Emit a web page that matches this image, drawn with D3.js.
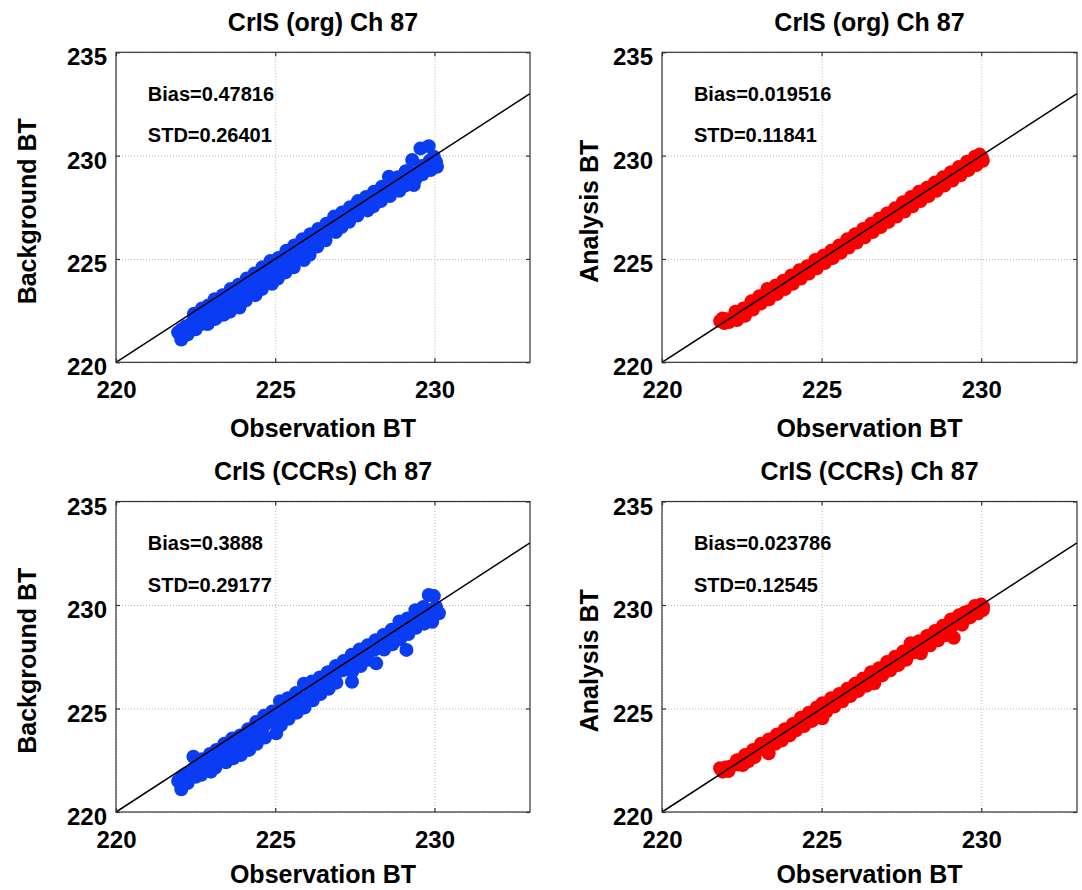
<!DOCTYPE html>
<html>
<head>
<meta charset="utf-8">
<script src="https://cdn.jsdelivr.net/npm/d3@7"></script>
<style>
  html, body { margin: 0; padding: 0; background: #fff; }
  svg { display: block; }
  text { font-family: "Liberation Sans", Arial, Helvetica, sans-serif; font-weight: bold; fill: #000; }
</style>
</head>
<body>
<svg id="chart" width="1082" height="890"></svg>
<script>
// ---- data ----
const xTicks = [220, 225, 230];
const yTicks = [220, 225, 230, 235];
const xDomain = [220, 233];
const yDomain = [220, 235];

const titles = ["CrIS (org) Ch 87", "CrIS (org) Ch 87", "CrIS (CCRs) Ch 87", "CrIS (CCRs) Ch 87"];
const xLabels = ["Observation BT", "Observation BT", "Observation BT", "Observation BT"];
const yLabels = ["Background BT", "Analysis BT", "Background BT", "Analysis BT"];
const biasValues = ["0.47816", "0.019516", "0.3888", "0.023786"];
const stdValues = ["0.26401", "0.11841", "0.29177", "0.12545"];
const seriesColors = ["#0a3cf4", "#fa0000", "#0a3cf4", "#fa0000"];

// [observation BT, model BT]
const orgBackground = [
  [222.05,221.10],[222.07,221.60],[221.95,221.45],[222.20,221.75],[222.25,221.35],
  [222.45,222.35],[222.40,221.95],[222.50,221.60],[222.42,221.70],
  [222.70,222.60],[222.72,222.15],[222.68,221.85],
  [222.90,222.75],[222.95,222.30],[222.88,221.85],
  [223.10,223.05],[223.15,222.60],[223.12,222.10],
  [223.35,223.25],[223.30,222.80],[223.38,222.30],
  [223.60,223.55],[223.62,223.00],[223.58,222.45],
  [223.85,223.75],[223.90,223.20],[223.88,222.65],
  [224.10,224.05],[224.12,223.55],[224.08,223.00],
  [224.35,224.30],[224.40,223.75],[224.38,223.25],
  [224.60,224.60],[224.62,224.05],[224.58,223.55],
  [224.85,224.90],[224.88,224.30],[224.90,223.80],
  [225.10,225.05],[225.12,224.55],[225.08,224.05],
  [225.35,225.40],[225.38,224.80],[225.32,224.35],
  [225.60,225.65],[225.62,225.10],[225.58,224.60],
  [225.85,225.95],[225.88,225.40],[225.90,224.95],
  [226.10,226.20],[226.12,225.65],[226.08,225.20],
  [226.35,226.45],[226.38,225.95],[226.32,225.60],
  [226.60,226.70],[226.62,226.25],[226.58,225.90],
  [226.85,227.05],[226.88,226.55],[226.90,226.30],
  [227.10,227.25],[227.12,226.80],[227.08,226.55],
  [227.35,227.50],[227.38,227.05],[227.32,226.80],
  [227.60,227.80],[227.62,227.30],[227.58,227.10],
  [227.85,228.00],[227.88,227.60],[227.90,227.35],
  [228.10,228.25],[228.12,227.85],[228.08,227.55],
  [228.35,228.50],[228.38,228.10],[228.32,227.80],
  [228.57,228.98],[228.62,228.35],[228.60,228.05],
  [228.85,228.95],[228.88,228.60],[228.90,228.30],
  [229.10,229.25],[229.12,228.85],[229.08,228.55],
  [229.30,229.79],[229.35,229.15],[229.35,228.58],[229.40,228.85],
  [229.56,230.35],[229.60,229.50],[229.62,229.10],
  [229.82,230.46],[229.85,229.75],[229.88,229.30],
  [229.98,229.95],[230.08,229.46],[230.05,229.70]
];

const orgAnalysis = [
  [221.82,222.00],[221.90,222.12],[221.95,221.90],[222.05,222.08],[222.10,221.95],
  [222.30,222.45],[222.32,222.20],[222.35,222.05],
  [222.55,222.60],[222.55,222.35],[222.60,222.25],
  [222.80,222.95],[222.82,222.65],[222.85,222.55],
  [223.05,223.20],[223.05,222.95],[223.10,222.85],
  [223.30,223.55],[223.32,223.25],[223.35,223.05],
  [223.55,223.70],[223.58,223.45],[223.60,223.30],
  [223.80,223.95],[223.82,223.70],[223.85,223.55],
  [224.05,224.20],[224.08,223.95],[224.10,223.80],
  [224.30,224.45],[224.32,224.20],[224.35,224.05],
  [224.55,224.65],[224.58,224.45],[224.60,224.30],
  [224.80,224.95],[224.82,224.70],[224.85,224.55],
  [225.05,225.15],[225.08,224.95],[225.10,224.80],
  [225.30,225.40],[225.32,225.20],[225.35,225.05],
  [225.55,225.65],[225.58,225.45],[225.60,225.30],
  [225.80,225.95],[225.82,225.70],[225.85,225.55],
  [226.05,226.20],[226.08,225.95],[226.10,225.80],
  [226.30,226.45],[226.32,226.20],[226.35,226.05],
  [226.55,226.70],[226.58,226.45],[226.60,226.30],
  [226.80,226.95],[226.82,226.70],[226.85,226.55],
  [227.05,227.20],[227.08,226.95],[227.10,226.80],
  [227.30,227.45],[227.32,227.20],[227.35,227.05],
  [227.55,227.75],[227.58,227.45],[227.60,227.30],
  [227.80,228.00],[227.82,227.70],[227.85,227.55],
  [228.05,228.25],[228.08,227.95],[228.10,227.80],
  [228.30,228.45],[228.32,228.20],[228.35,228.05],
  [228.55,228.70],[228.58,228.45],[228.60,228.30],
  [228.80,228.95],[228.82,228.70],[228.85,228.55],
  [229.05,229.20],[229.08,228.95],[229.10,228.80],
  [229.30,229.45],[229.32,229.20],[229.35,229.05],
  [229.55,229.70],[229.58,229.45],[229.60,229.30],
  [229.80,229.95],[229.82,229.75],[229.85,229.55],
  [229.95,230.05],[230.02,229.90],[230.05,229.75]
];

const ccrBackground = [
  [222.05,221.10],[222.07,221.70],[221.95,221.50],[222.20,221.85],[222.25,221.40],
  [222.43,222.67],[222.45,222.10],[222.50,221.70],[222.40,221.85],
  [222.70,222.55],[222.72,222.10],[222.68,221.80],
  [222.95,222.80],[222.90,222.35],[222.98,221.95],
  [223.15,223.00],[223.20,222.55],[223.12,222.15],
  [223.40,223.30],[223.38,222.80],[223.45,222.40],
  [223.65,223.55],[223.62,223.05],[223.68,222.60],
  [223.90,223.70],[223.88,223.25],[223.92,222.75],
  [224.15,224.00],[224.12,223.50],[224.18,223.00],
  [224.40,224.35],[224.38,223.80],[224.42,223.30],
  [224.65,224.65],[224.62,224.10],[224.68,223.60],
  [224.90,224.85],[224.88,224.35],[225.03,223.80],
  [225.15,225.35],[225.12,224.70],[225.18,224.20],
  [225.40,225.50],[225.38,224.95],[225.42,224.50],
  [225.65,225.75],[225.62,225.25],[225.68,224.80],
  [225.90,226.20],[225.88,225.50],[225.92,225.05],
  [226.15,226.30],[226.12,225.80],[226.18,225.40],
  [226.40,226.50],[226.38,226.05],[226.42,225.70],
  [226.65,226.75],[226.62,226.30],[226.68,225.95],
  [226.90,227.05],[226.88,226.60],[226.92,226.25],
  [227.15,227.30],[227.12,226.85],[227.41,226.29],
  [227.40,227.60],[227.38,227.10],[227.42,226.80],
  [227.65,227.85],[227.62,227.35],[227.68,227.05],
  [227.90,228.05],[227.88,227.60],[227.92,227.35],
  [228.15,228.30],[228.12,227.85],[228.17,227.18],
  [228.40,228.55],[228.38,228.10],[228.42,227.85],
  [228.65,228.80],[228.62,228.35],[228.68,228.10],
  [228.90,229.20],[228.88,228.65],[228.92,228.35],
  [229.12,227.83],
  [229.15,229.35],[229.12,228.90],[229.18,228.60],
  [229.40,229.75],[229.38,229.20],[229.42,228.90],
  [229.65,229.90],[229.62,229.45],[229.68,229.10],
  [229.82,230.48],[229.98,230.43],[229.85,229.75],[229.93,229.19],
  [230.14,229.60],[230.05,229.90]
];

const ccrAnalysis = [
  [221.82,222.11],[221.90,221.95],[222.00,222.15],[222.08,221.98],[222.15,222.20],
  [222.35,222.50],[222.38,222.30],[222.53,222.27],
  [222.60,222.75],[222.62,222.55],[222.70,222.45],
  [222.85,223.00],[222.88,222.80],[222.90,222.65],
  [223.10,223.30],[223.12,223.05],[223.34,222.84],
  [223.35,223.50],[223.40,223.25],[223.55,223.30],
  [223.60,223.75],[223.65,223.55],[223.75,223.45],
  [223.85,224.00],[223.90,223.80],[224.00,223.70],
  [224.10,224.25],[224.15,224.05],[224.20,223.95],
  [224.35,224.55],[224.40,224.30],[224.45,224.15],
  [224.60,224.80],[224.65,224.55],[224.70,224.40],
  [224.85,225.05],[224.90,224.80],[225.02,224.53],
  [225.02,225.25],[225.10,225.05],[225.15,224.85],
  [225.30,225.50],[225.35,225.30],[225.40,225.10],
  [225.55,225.70],[225.60,225.50],[225.65,225.35],
  [225.80,225.95],[225.85,225.75],[225.90,225.60],
  [226.05,226.20],[226.10,226.00],[226.15,225.85],
  [226.30,226.45],[226.35,226.25],[226.40,226.10],
  [226.55,226.75],[226.60,226.50],[226.65,226.22],
  [226.80,226.95],[226.85,226.75],[226.90,226.60],
  [227.05,227.25],[227.10,227.00],[227.15,226.85],
  [227.30,227.50],[227.35,227.25],[227.40,227.10],
  [227.55,227.75],[227.60,227.50],[227.65,227.35],
  [227.79,228.15],[227.80,227.95],[227.85,227.70],
  [228.05,228.25],[228.08,227.95],[228.11,227.67],
  [228.30,228.50],[228.35,228.20],[228.40,228.05],
  [228.55,228.75],[228.60,228.45],[228.65,228.30],
  [228.80,229.00],[228.85,228.70],[228.90,228.55],
  [229.05,229.30],[229.10,229.00],[229.14,228.42],
  [229.30,229.50],[229.35,229.25],[229.40,229.05],
  [229.47,229.62],[229.60,229.70],[229.65,229.40],
  [229.80,229.95],[229.85,229.80],[229.90,229.60],
  [230.00,230.02],[230.06,229.92],[230.05,229.75]
];

const seriesData = [orgBackground, orgAnalysis, ccrBackground, ccrAnalysis];

// ---- layout ----
const panelBoxes = [
  { left: 116, top: 52.3, width: 414, height: 310, yLabelGap: 80, xLabelGap: 75 },
  { left: 662, top: 52.3, width: 415, height: 310, yLabelGap: 64, xLabelGap: 75 },
  { left: 116, top: 501.5, width: 414, height: 310.5, yLabelGap: 80, xLabelGap: 71 },
  { left: 662, top: 501.5, width: 415, height: 310.5, yLabelGap: 64, xLabelGap: 71 }
];
const markerRadius = 7;

const svg = d3.select("#chart");
svg.append("rect").attr("width", 1082).attr("height", 890).attr("fill", "#fff");

panelBoxes.forEach((box, i) => {
  const w = box.width, h = box.height;
  const x = d3.scaleLinear().domain(xDomain).range([0, w]);
  const y = d3.scaleLinear().domain(yDomain).range([h, 0]);
  const g = svg.append("g").attr("transform", `translate(${box.left},${box.top})`);

  // dotted grid
  const gridX = g.append("g").attr("transform", `translate(0,${h})`)
    .call(d3.axisBottom(x).tickValues(xTicks).tickSize(-h).tickFormat("").tickSizeOuter(0));
  const gridY = g.append("g")
    .call(d3.axisLeft(y).tickValues(yTicks).tickSize(-w).tickFormat("").tickSizeOuter(0));
  [gridX, gridY].forEach(gg => {
    gg.select(".domain").remove();
    gg.selectAll("line").attr("stroke", "#b4b4b4").attr("stroke-width", 1)
      .attr("stroke-dasharray", "1,2");
  });

  // scatter points
  g.append("g").selectAll("circle").data(seriesData[i]).join("circle")
    .attr("cx", d => x(d[0]))
    .attr("cy", d => y(d[1]))
    .attr("r", markerRadius)
    .attr("fill", seriesColors[i]);

  // 1:1 reference line
  g.append("path")
    .datum(xDomain)
    .attr("d", d3.line().x(v => x(v)).y(v => y(v)))
    .attr("stroke", "#000").attr("stroke-width", 1.5).attr("fill", "none");

  // axes with inward ticks on all four sides
  const bottom = g.append("g").attr("transform", `translate(0,${h})`)
    .call(d3.axisBottom(x).tickValues(xTicks).tickSizeInner(-4).tickSizeOuter(0).tickFormat(d3.format("d")));
  const top = g.append("g")
    .call(d3.axisTop(x).tickValues(xTicks).tickSizeInner(-4).tickSizeOuter(0).tickFormat(""));
  const left = g.append("g")
    .call(d3.axisLeft(y).tickValues(yTicks).tickSizeInner(-4).tickSizeOuter(0).tickFormat(d3.format("d")));
  const right = g.append("g").attr("transform", `translate(${w},0)`)
    .call(d3.axisRight(y).tickValues(yTicks).tickSizeInner(-4).tickSizeOuter(0).tickFormat(""));
  [bottom, top, left, right].forEach(a => {
    a.select(".domain").remove();
    a.selectAll("line").attr("stroke", "#333").attr("stroke-width", 1.2);
    a.attr("font-family", null).attr("font-size", null);
  });
  bottom.selectAll("text")
    .attr("y", 36).attr("dy", null)
    .style("font-size", "24px").attr("fill", "#000");
  left.selectAll("text")
    .attr("x", -9).attr("y", 12.5).attr("dy", null)
    .style("font-size", "24px").attr("fill", "#000");

  // plot frame
  g.append("rect").attr("width", w).attr("height", h)
    .attr("fill", "none").attr("stroke", "#333").attr("stroke-width", 1.2);

  // statistics
  g.append("text").attr("x", x(221)).attr("y", y(233)).attr("dy", "0.36em")
    .style("font-size", "20px").text("Bias=" + biasValues[i]);
  g.append("text").attr("x", x(221)).attr("y", y(231)).attr("dy", "0.36em")
    .style("font-size", "20px").text("STD=" + stdValues[i]);

  // title and axis labels
  g.append("text").attr("x", w / 2).attr("y", -21.5).attr("text-anchor", "middle")
    .style("font-size", "25px").text(titles[i]);
  g.append("text").attr("x", w / 2).attr("y", h + box.xLabelGap).attr("text-anchor", "middle")
    .style("font-size", "25px").text(xLabels[i]);
  g.append("text")
    .attr("transform", `translate(${-box.yLabelGap},${h / 2 + 4}) rotate(-90)`)
    .attr("text-anchor", "middle")
    .style("font-size", "25px").text(yLabels[i]);
});
</script>
</body>
</html>
